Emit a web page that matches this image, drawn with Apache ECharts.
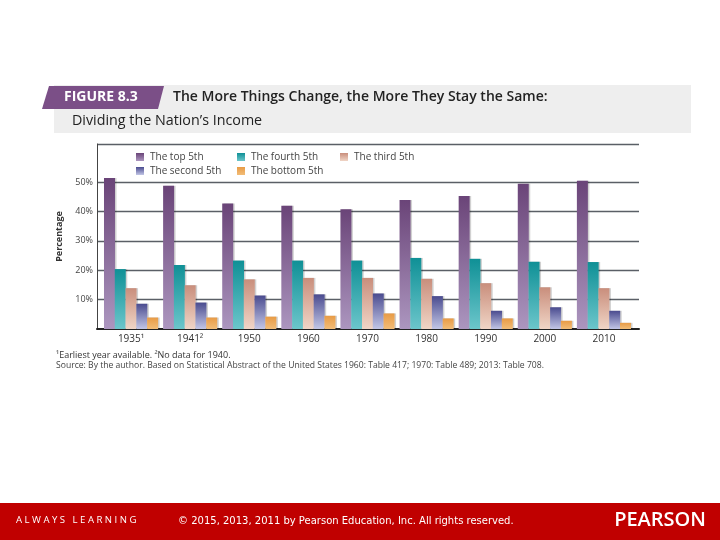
<!DOCTYPE html>
<html>
<head>
<meta charset="utf-8">
<script src="https://cdn.jsdelivr.net/npm/echarts@6/dist/echarts.min.js"></script>
<style>html,body{margin:0;padding:0;background:#fff;}#c{width:720px;height:540px;}</style>
</head>
<body>
<div id="c"></div>
<script>
const categories = ['1935¹','1941²','1950','1960','1970','1980','1990','2000','2010'];
const seriesNames = ['The top 5th','The fourth 5th','The third 5th','The second 5th','The bottom 5th'];
const top5th = [51.4, 48.8, 42.7, 42.0, 40.8, 43.9, 45.3, 49.5, 50.5];
const fourth5th = [20.4, 21.8, 23.3, 23.3, 23.3, 24.2, 23.9, 22.9, 22.8];
const third5th = [13.9, 14.9, 16.9, 17.4, 17.4, 17.1, 15.6, 14.2, 13.9];
const second5th = [8.6, 9.0, 11.4, 11.8, 12.1, 11.2, 6.2, 7.4, 6.2];
const bottom5th = [3.9, 3.9, 4.2, 4.5, 5.3, 3.6, 3.6, 2.8, 2.1];
const yTickLabels = [10, 20, 30, 40, 50];

const grads = [
  ['#6a4478', '#ac96bf'],
  ['#0f9096', '#6cc6cb'],
  ['#c98e7c', '#f0d5c6'],
  ['#4a4b8f', '#c2c6e6'],
  ['#e89b45', '#f2bd78']
];
function grad(c) {
  return {type:'linear', x:0, y:0, x2:0, y2:1, colorStops:[{offset:0,color:c[0]},{offset:1,color:c[1]}]};
}
const values = [top5th, fourth5th, third5th, second5th, bottom5th];

const chart = echarts.init(document.getElementById('c'), null, {renderer:'canvas'});
const legendPos = [[136,152],[237,152],[340,152],[136,166],[237,166]];
const option = {
  animation: false,
  backgroundColor: '#ffffff',
  textStyle: {fontFamily: 'Open Sans'},
  grid: [
    {left: 97, right: 81, top: 144, bottom: 211, containLabel: false},
    {left: 101.5, right: 86.5, top: 144, bottom: 211, containLabel: false}
  ],
  legend: seriesNames.map((n, i) => ({
    data: [n], left: legendPos[i][0], top: legendPos[i][1], padding: 0,
    icon: 'rect', itemWidth: 8, itemHeight: 8, itemGap: 0,
    textStyle: {fontSize: 10, color: '#444', fontFamily: 'Open Sans', padding: [0,0,0,1]}
  })),
  xAxis: [
    {
      type: 'category', gridIndex: 0, data: categories,
      axisLine: {lineStyle: {color: '#222', width: 2}},
      axisTick: {show: false}, axisLabel: {show: false}
    },
    {
      type: 'category', gridIndex: 1, data: categories,
      axisLine: {show: false}, axisTick: {show: false},
      axisLabel: {fontSize: 10, color: '#333', margin: 5, fontFamily: 'Open Sans'}
    }
  ],
  yAxis: [
    {
      type: 'value', gridIndex: 0, min: 0, max: 63, interval: 10,
      name: 'Percentage', nameLocation: 'middle', nameGap: 31, nameRotate: 90,
      nameTextStyle: {fontSize: 9, fontWeight: 'bold', color: '#333', fontFamily: 'Open Sans'},
      axisLine: {show: true, lineStyle: {color: '#444', width: 1}},
      axisTick: {show: false},
      axisLabel: {fontSize: 9, color: '#444', margin: 4, fontFamily: 'Open Sans',
        formatter: v => (yTickLabels.indexOf(v) >= 0 ? v + '%' : '')},
      splitLine: {show: true, lineStyle: {color: ['rgba(0,0,0,0)','#5a5f66','#5a5f66','#5a5f66','#5a5f66','#5a5f66','rgba(0,0,0,0)','#5a5f66'], width: 1.3}}
    },
    {
      type: 'value', gridIndex: 1, min: 0, max: 63, interval: 10, show: false,
      splitLine: {show: false}
    }
  ],
  series: seriesNames.map((n, i) => ({
    name: n, type: 'bar', xAxisIndex: 1, yAxisIndex: 1, data: values[i], barWidth: 11, barGap: '-2%',
    itemStyle: {color: grad(grads[i]), shadowColor: 'rgba(0,0,0,0.18)', shadowOffsetX: 1.5, shadowBlur: 0}
  })),
  graphic: [
    {type: 'rect', shape: {x: 54, y: 85, width: 637, height: 48}, style: {fill: '#eeeeee'}, z: -1},
    {type: 'polygon', shape: {points: [[49,86],[164,86],[158,109],[42,109]]}, style: {fill: '#7b4f87'}},
    {type: 'text', x: 64, y: 97, style: {text: 'FIGURE 8.3', fill: '#fff', font: 'bold 14px "Open Sans"', textVerticalAlign: 'middle'}},
    {type: 'text', x: 173, y: 97, style: {text: 'The More Things Change, the More They Stay the Same:', fill: '#222', font: '600 14px "Open Sans"', textVerticalAlign: 'middle'}},
    {type: 'text', x: 72, y: 121, style: {text: 'Dividing the Nation\u2019s Income', fill: '#222', font: '14.3px "Open Sans"', textVerticalAlign: 'middle'}},
    {type: 'text', x: 56, y: 355, style: {text: '¹Earliest year available. ²No data for 1940.', fill: '#333', font: '9px "Open Sans"', textVerticalAlign: 'middle'}},
    {type: 'text', x: 56, y: 366, style: {text: 'Source: By the author. Based on Statistical Abstract of the United States 1960: Table 417; 1970: Table 489; 2013: Table 708.', fill: '#444', font: '8.6px "Open Sans"', textVerticalAlign: 'middle'}},
    {type: 'rect', shape: {x: 0, y: 503, width: 720, height: 37}, style: {fill: '#c00000'}},
    {type: 'text', x: 16, y: 520, style: {text: 'A L W A Y S   L E A R N I N G', fill: '#fff', font: '9.6px "Open Sans"', textVerticalAlign: 'middle'}},
    {type: 'text', x: 178, y: 521, style: {text: '© 2015, 2013, 2011 by Pearson Education, Inc. All rights reserved.', fill: '#fff', font: '10px "DejaVu Sans"', textVerticalAlign: 'middle'}},
    {type: 'text', x: 706, y: 520, style: {text: 'PEARSON', fill: '#fff', font: '600 20px "Open Sans"', textAlign: 'right', textVerticalAlign: 'middle'}}
  ]
};
chart.setOption(option);
</script>
</body>
</html>
